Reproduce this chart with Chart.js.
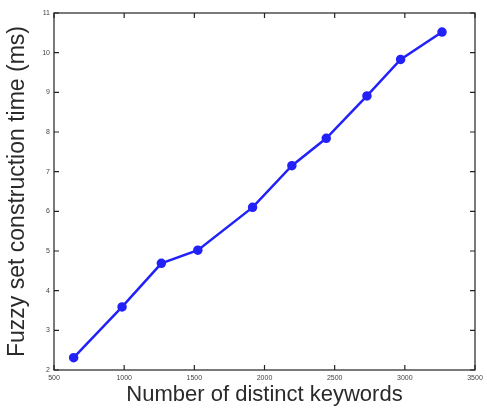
<!DOCTYPE html>
<html>
<head>
<meta charset="utf-8">
<script src="https://cdn.jsdelivr.net/npm/chart.js@4.4.1/dist/chart.umd.min.js"></script>
<style>
  html, body { margin: 0; padding: 0; background: #fff; }
  #wrap { width: 487px; height: 412px; }
</style>
</head>
<body>
<div id="wrap"><canvas id="fuzzyChart"></canvas></div>
<script>
// số từ khoá và thời gian xây dựng tập mờ
const keywords = [640, 985, 1265, 1525, 1915, 2195, 2440, 2730, 2970, 3265];
const timeMs = [2.31, 3.59, 4.69, 5.02, 6.10, 7.15, 7.84, 8.91, 9.83, 10.52];
const xTicks = [500, 1000, 1500, 2000, 2500, 3000, 3500];
const yTicks = [2, 3, 4, 5, 6, 7, 8, 9, 10, 11];

// vẽ khung và vạch chia hướng vào trong (kiểu MATLAB)
const frameTicks = {
  id: 'frameTicks',
  afterDraw(chart) {
    const c = chart.ctx, a = chart.chartArea;
    const sx = chart.scales.x, sy = chart.scales.y;
    c.save();
    c.strokeStyle = '#222';
    c.lineWidth = 1.2;
    c.strokeRect(a.left, a.top, a.right - a.left, a.bottom - a.top);
    c.beginPath();
    xTicks.forEach(v => {
      const px = sx.getPixelForValue(v);
      c.moveTo(px, a.bottom); c.lineTo(px, a.bottom - 5);
      c.moveTo(px, a.top); c.lineTo(px, a.top + 5);
    });
    yTicks.forEach(v => {
      const py = sy.getPixelForValue(v);
      c.moveTo(a.left, py); c.lineTo(a.left + 5, py);
      c.moveTo(a.right, py); c.lineTo(a.right - 5, py);
    });
    c.stroke();
    c.restore();
  }
};

const ctx = document.getElementById('fuzzyChart').getContext('2d');
new Chart(ctx, {
  type: 'line',
  data: {
    datasets: [{
      data: keywords.map((k, i) => ({ x: k, y: timeMs[i] })),
      borderColor: '#2222f8',
      backgroundColor: '#2222f8',
      borderWidth: 2.5,
      pointRadius: 3.5,
      pointHoverRadius: 3.5,
      tension: 0
    }]
  },
  options: {
    responsive: true,
    maintainAspectRatio: false,
    animation: false,
    layout: { padding: { top: 13, right: 12, left: 0, bottom: 0 } },
    plugins: { legend: { display: false }, tooltip: { enabled: false } },
    scales: {
      x: {
        type: 'linear',
        min: 500,
        max: 3500,
        afterBuildTicks: s => { s.ticks = xTicks.map(v => ({ value: v })); },
        afterFit: s => { s.height = 42; },
        grid: { drawOnChartArea: false, drawTicks: false },
        border: { display: false },
        ticks: {
          font: { family: 'Arial', size: 7 }, color: '#444', padding: 4, maxRotation: 0,
          callback: v => String(v)
        },
        title: {
          display: true,
          text: 'Number of distinct keywords',
          font: { family: 'Arial', size: 22 },
          color: '#2a2a2a',
          padding: { top: 0, bottom: 4 }
        }
      },
      y: {
        min: 2,
        max: 11,
        afterBuildTicks: s => { s.ticks = yTicks.map(v => ({ value: v })); },
        afterFit: s => { s.width = 54; },
        grid: { drawOnChartArea: false, drawTicks: false },
        border: { display: false },
        ticks: { font: { family: 'Arial', size: 7 }, color: '#444', padding: 4 },
        title: {
          display: true,
          text: 'Fuzzy set construction time (ms)',
          font: { family: 'Arial', size: 23 },
          color: '#2a2a2a',
          padding: { top: 4, bottom: 4 }
        }
      }
    }
  },
  plugins: [frameTicks]
});
</script>
</body>
</html>
